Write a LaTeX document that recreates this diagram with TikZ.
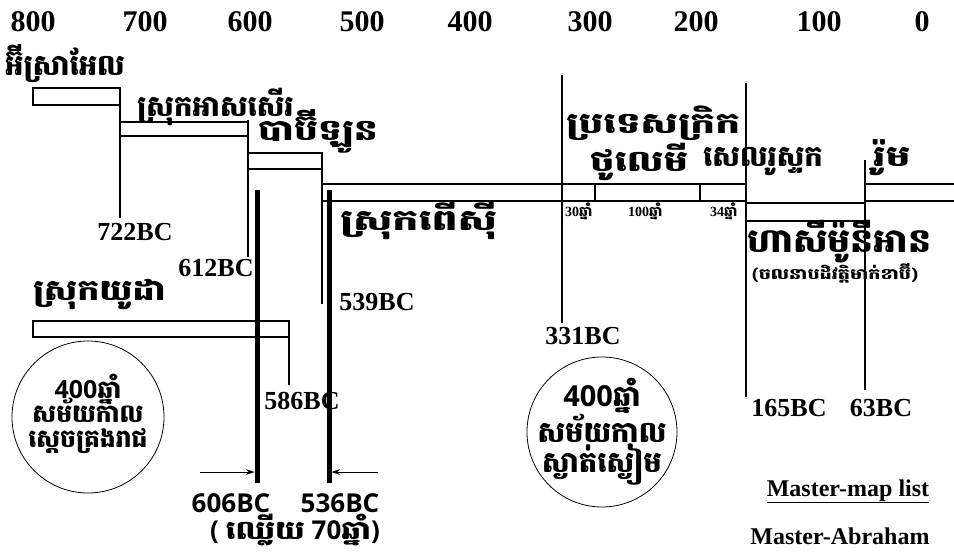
\documentclass[tikz,border=0pt]{standalone}
\usepackage{fontspec}
\usepackage{graphicx}
\setmainfont{Liberation Serif}
\newfontfamily\khfont[Script=Khmer]{Battambang}
\newfontfamily\sansfont{Open Sans}
\usetikzlibrary{arrows.meta,positioning}
\newcommand{\khwide}[2]{\scalebox{#1}[1]{#2}}
\tikzset{
  yeartick/.style={font=\bfseries\fontsize{30}{32}\selectfont,inner sep=0pt},
  bcmark/.style={font=\bfseries\fontsize{26}{28}\selectfont,inner sep=0pt},
  realmname/.style={font=\khfont\bfseries\fontsize{29}{32}\selectfont,
    inner sep=0pt,anchor=base west},
  spanmark/.style={font=\bfseries\fontsize{14}{15}\selectfont,
    inner sep=0pt,anchor=base west},
  circletext/.style={font=\khfont\bfseries\fontsize{25}{27}\selectfont,
    inner sep=0pt,anchor=base},
  exilemark/.style={font=\sansfont\bfseries\fontsize{26}{28}\selectfont,
    inner sep=0pt},
  mastermark/.style={font=\bfseries\fontsize{24}{26}\selectfont,
    inner sep=0pt,anchor=base},
  kingbar/.style={draw,line width=1.2pt},
  eraline/.style={line width=2.6pt},
  exileline/.style={line width=5pt},
  eracircle/.style={draw,circle,line width=.8pt,inner sep=0pt},
  exilearrow/.style={-{Stealth[length=3mm,width=2mm]},line width=.9pt}
}
\begin{document}
\begin{tikzpicture}[x=1pt,y=-1pt]
  \useasboundingbox (0,0) rectangle (954,554);
  % years along the top
  \foreach \yr/\px in {800/33,700/145,600/250,500/362,400/470,
      300/590,200/696,100/819,0/922}
    \node[yeartick] (yr\yr) at (\px,22) {\yr};

  % kingdoms and their bars
  \node[realmname] (israel) at (5,75) {អ៊ីស្រាអែល};
  \draw[kingbar] (33,88) rectangle (120,105);
  \node[realmname] (assyria) at (137,116) {ស្រុកអាសសើរ};
  \draw[kingbar] (120,122) rectangle (248,136);
  \node[realmname] (babylon) at (258,140) {\khwide{1.3}{បាប៊ីឡូន}};
  \draw[kingbar] (248,153) rectangle (322,169);
  \node[realmname] (persia) at (340,230) {\khwide{1.42}{ស្រុកពើស៊ី}};
  \draw[kingbar] (322,184) rectangle (746,201);
  \draw[kingbar] (595,184) -- (595,201) (700,184) -- (700,201);
  \node[realmname] (greece) at (566,133) {\khwide{1.35}{ប្រទេសក្រិក}};
  \node[realmname] (ptolemy) at (590,171) {\khwide{1.33}{ថូលេមី}};
  \node[realmname] (seleucid) at (703,166) {សេលរូស្ទក};
  \draw[kingbar] (746,203) rectangle (865,221);
  \node[realmname] (rome) at (873,166) {\khwide{1.35}{រ៉ូម}};
  \draw[kingbar] (865,184) -- (954,184) (865,201) -- (954,201);
  \node[realmname,font=\khfont\bfseries\fontsize{33}{35}\selectfont]
    (hasmon) at (747,252) {\khwide{1.1}{ហាសីម៉ូនីអាន}};
  \node[realmname,font=\khfont\bfseries\fontsize{15}{17}\selectfont]
    (maccabee) at (752,279) {\khwide{1.28}{(ចលនាបដិវត្តិមាក់ខាប៊ី)}};
  \node[realmname] (judah) at (33,300) {\khwide{1.2}{ស្រុកយូដា}};
  \draw[kingbar] (33,321) rectangle (289,337);

  % years of each greek span
  \node[spanmark] (span30) at (565,216) {30{\khfont ឆ្នាំ}};
  \node[spanmark] (span100) at (628,216) {100{\khfont ឆ្នាំ}};
  \node[spanmark] (span34) at (710,216) {34{\khfont ឆ្នាំ}};

  % dates
  \node[bcmark] (bc722) at (135,232) {722BC};
  \node[bcmark] (bc612) at (216,268) {612BC};
  \node[bcmark] (bc539) at (377,302) {539BC};
  \node[bcmark] (bc331) at (583,336) {331BC};
  \node[bcmark] (bc586) at (302,401) {586BC};
  \node[bcmark] (bc165) at (789,408) {165BC};
  \node[bcmark] (bc63) at (881,408) {63BC};

  \coordinate (endisr) at (120,88);
  \coordinate (endass) at (248,120);
  \coordinate (endbab) at (322,152);
  \coordinate (endper) at (562,75);
  \coordinate (endgre) at (746,83);
  \coordinate (endhas) at (865,160);
  \coordinate (endjud) at (289,336);
  \draw[eraline] (endisr) -- ([yshift=5pt]bc722.north -| endisr);
  \draw[eraline] (endass) -- ([yshift=2pt]bc612.north -| endass);
  \draw[eraline] (endbab) -- ([yshift=-11pt]bc539.north -| endbab);
  \draw[eraline] (endper) -- ([yshift=4pt]bc331.north -| endper);
  \draw[eraline] (endgre) -- ([yshift=2pt]bc165.north -| endgre);
  \draw[eraline] (endhas) -- ([yshift=9pt]bc63.north -| endhas);
  \draw[eraline] (endjud) -- ([yshift=7pt]bc586.north -| endjud);

  % the exile
  \coordinate (fall) at (257,483);
  \coordinate (return) at (329,483);
  \draw[exileline] (fall) -- +(0,-293);
  \draw[exileline] (return) -- +(0,-293);
  \draw[exilearrow] ([xshift=-57pt,yshift=11pt]fall)
    -- ([xshift=-2.5pt,yshift=11pt]fall);
  \draw[exilearrow] ([xshift=49pt,yshift=11pt]return)
    -- ([xshift=2.5pt,yshift=11pt]return);
  \node[exilemark] (bc606) at (231,503) {606BC};
  \node[exilemark] (bc536) at (340,503) {536BC};
  \node[exilemark,anchor=base] (captive) at (295,539)
    {( {\khfont\khwide{1.2}{ឈ្លើយ}} 70{\khfont\khwide{1.2}{ឆ្នាំ}})};

  % four hundred year periods
  \node[eracircle,minimum size=152pt] (kings) at (88,417) {};
  \node[circletext] (kingsa) at (88,398) {{\sansfont 400}ឆ្នាំ};
  \node[circletext] (kingsb) at (88,422) {សម័យកាល};
  \node[circletext] (kingsc) at (88,447) {ស្តេចគ្រងរាជ};
  \node[eracircle,minimum size=150pt] (silent) at (602,432) {};
  \node[circletext,font=\khfont\bfseries\fontsize{29}{31}\selectfont]
    (silenta) at (602,406) {{\sansfont 400}ឆ្នាំ};
  \node[circletext,font=\khfont\bfseries\fontsize{29}{31}\selectfont]
    (silentb) at (602,442) {សម័យកាល};
  \node[circletext,font=\khfont\bfseries\fontsize{29}{31}\selectfont]
    (silentc) at (602,472) {ស្ងាត់ស្ងៀម};

  \node[mastermark] (maplist) at (848,496) {\underline{Master-map list}};
  \node[mastermark] (abraham) at (840,544) {Master-Abraham};
\end{tikzpicture}
\end{document}
